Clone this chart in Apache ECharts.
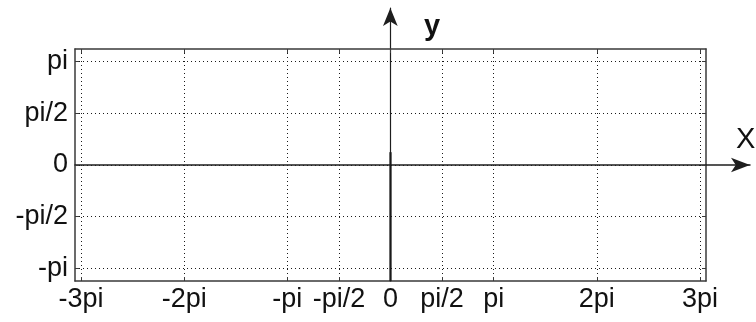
<!DOCTYPE html>
<html>
<head>
<meta charset="utf-8">
<script src="https://cdn.jsdelivr.net/npm/echarts@6/dist/echarts.min.js"></script>
<style>
html,body{margin:0;padding:0;background:#fff;}
#chart{width:756px;height:322px;}
</style>
</head>
<body>
<div id="chart"></div>
<script>
var PI = Math.PI;
// tick positions and their labels
var xTickValues = [-3*PI, -2*PI, -PI, -PI/2, 0, PI/2, PI, 2*PI, 3*PI];
var xTickLabels = ['-3pi', '-2pi', '-pi', '-pi/2', '0', 'pi/2', 'pi', '2pi', '3pi'];
var yTickValues = [-PI, -PI/2, 0, PI/2, PI];
var yTickLabels = ['-pi', '-pi/2', '0', 'pi/2', 'pi'];
// the plotted curve (almost vertical at x = 0)
var curveX = [0, 0];
var curveY = [-3.53, 0.39];

function labelOf(values, labels){
	return function(v){
		for(var i=0;i<values.length;i++){
			if(Math.abs(values[i]-v) < 1e-6) return labels[i];
		}
		return '';
	};
}

var curveData = [];
for(var i=0;i<curveX.length;i++){
	curveData.push([curveX[i], curveY[i]]);
}

var lineColor = '#3a3a3a';
var arrowColor = '#1e1e1e';
var gridLine = {show: true, lineStyle: {color: '#1a1a1a', width: 1, type: [1, 3]}};
var fontFamily = '"Liberation Sans", Arial, sans-serif';

var myChart = echarts.init(document.getElementById('chart'));
var option = {
	animation: false,
	backgroundColor: '#fff',
	grid: [
		{left: 75, right: 50, top: 49, bottom: 41},
		{left: 75, right: 6, top: 8, bottom: 41}
	],
	xAxis: [
		{
			type: 'value', gridIndex: 0, min: -9.61, max: 9.61, position: 'bottom',
			axisLine: {show: true, onZero: false, lineStyle: {color: lineColor, width: 1.5}},
			axisTick: {show: true, inside: true, length: 4, lineStyle: {color: lineColor, width: 1}, customValues: xTickValues},
			axisLabel: {show: true, customValues: xTickValues, formatter: labelOf(xTickValues, xTickLabels),
				color: '#111', fontSize: 27, fontFamily: fontFamily, margin: 5},
			splitLine: gridLine
		},
		{
			type: 'value', gridIndex: 0, min: -9.61, max: 9.61, position: 'top',
			axisLine: {show: true, onZero: false, lineStyle: {color: lineColor, width: 1.5}},
			axisTick: {show: true, inside: true, length: 4, lineStyle: {color: lineColor, width: 1}, customValues: xTickValues},
			axisLabel: {show: false},
			splitLine: {show: false}
		},
		{
			type: 'value', gridIndex: 1, min: -9.61, max: 10.96,
			axisLine: {show: true, onZero: true, symbol: ['none', 'arrow'], symbolSize: [11, 19],
				lineStyle: {color: arrowColor, width: 1.5}},
			axisTick: {show: false}, axisLabel: {show: false}, splitLine: {show: false}
		}
	],
	yAxis: [
		{
			type: 'value', gridIndex: 0, min: -3.525, max: 3.525, position: 'left',
			axisLine: {show: true, onZero: false, lineStyle: {color: lineColor, width: 1.5}},
			axisTick: {show: true, inside: true, length: 4, lineStyle: {color: lineColor, width: 1}, customValues: yTickValues},
			axisLabel: {show: true, customValues: yTickValues, formatter: labelOf(yTickValues, yTickLabels),
				color: '#111', fontSize: 27, fontFamily: fontFamily, margin: 7},
			splitLine: gridLine
		},
		{
			type: 'value', gridIndex: 0, min: -3.525, max: 3.525, position: 'right',
			axisLine: {show: true, onZero: false, lineStyle: {color: lineColor, width: 1.5}},
			axisTick: {show: true, inside: true, length: 4, lineStyle: {color: lineColor, width: 1}, customValues: yTickValues},
			axisLabel: {show: false},
			splitLine: {show: false}
		},
		{
			type: 'value', gridIndex: 1, min: -3.525, max: 4.77,
			axisLine: {show: true, onZero: true, symbol: ['none', 'arrow'], symbolSize: [11, 18],
				lineStyle: {color: arrowColor, width: 1.2}},
			axisTick: {show: false}, axisLabel: {show: false}, splitLine: {show: false}
		}
	],
	series: [
		{
			name: 'curve',
			type: 'line',
			xAxisIndex: 0,
			yAxisIndex: 0,
			data: curveData,
			symbol: 'none',
			lineStyle: {color: '#1a1a1a', width: 2.2}
		}
	],
	graphic: [
		{type: 'text', left: 424, top: 12,
			style: {text: 'y', font: 'bold 29px "Liberation Sans", Arial, sans-serif', fill: '#111'}},
		{type: 'text', left: 736, top: 125,
			style: {text: 'X', font: '29px "Liberation Sans", Arial, sans-serif', fill: '#111'}}
	]
};
myChart.setOption(option);
</script>
</body>
</html>
